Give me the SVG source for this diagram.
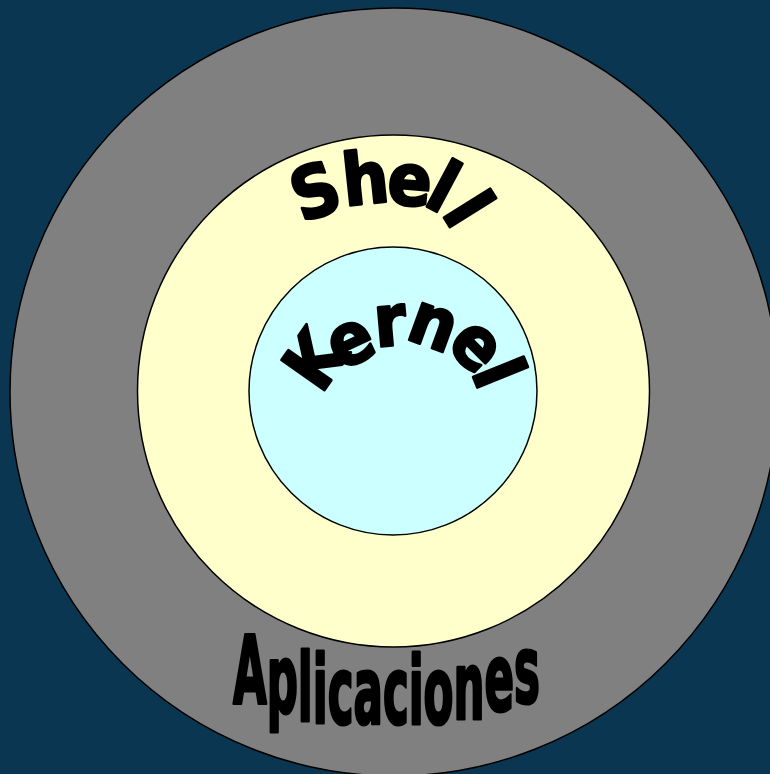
<svg xmlns="http://www.w3.org/2000/svg" width="770" height="774" viewBox="0 0 770 774">
  <style>
    .ring { stroke: #000; stroke-width: 1.5; }
    .word { font-family: "DejaVu Sans Condensed", "DejaVu Sans", "Liberation Sans", sans-serif; font-weight: bold; font-stretch: condensed; fill: #000; stroke: #000; stroke-width: 2.6; stroke-linejoin: round; }
  </style>
  <rect width="770" height="774" fill="#0b3652"/>
  <g id="aplicaciones">
    <circle class="ring" cx="394" cy="392" r="384" fill="#808080"/>
  </g>
  <g id="shell">
    <circle class="ring" cx="393.5" cy="391" r="256" fill="#ffffcc"/>
    <text class="word" font-size="72" x="302 345 386 422 441" y="223 206 203 204 213" rotate="-20 -6 5 28 58">Shell</text>
  </g>
  <g id="kernel">
    <circle class="ring" cx="393" cy="391" r="144" fill="#ccffff"/>
    <text class="word" font-size="72" x="321 340 376 404 445 471" y="395 371 347 338 346 372" rotate="-55 -25 -5 20 45 68">Kernel</text>
  </g>
  <g id="aplicaciones-label">
    <text class="word" font-size="95" style="stroke-width:3.2" x="233" y="704 712 721 723 724 724 724 724 724 719 711 703" textLength="307" lengthAdjust="spacingAndGlyphs">Aplicaciones</text>
  </g>
</svg>
